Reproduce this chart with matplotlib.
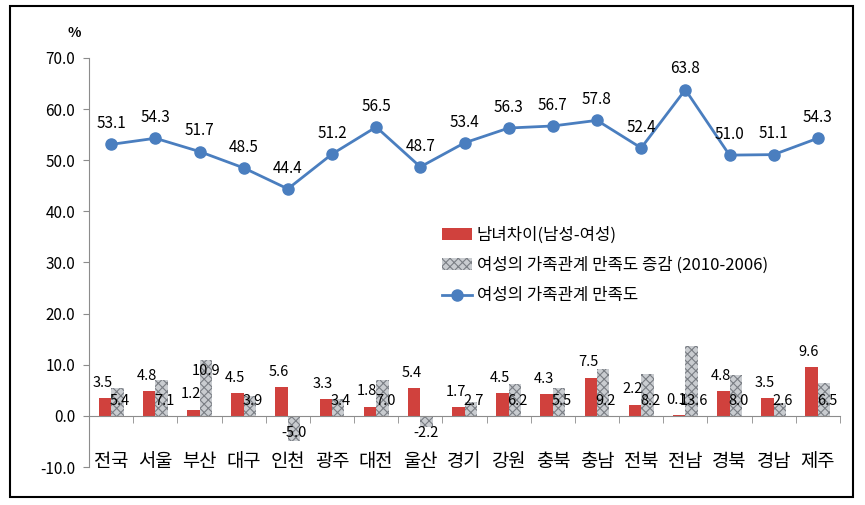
import numpy as np
import matplotlib
matplotlib.use("Agg")
import matplotlib.pyplot as plt
from matplotlib.patches import Rectangle, Patch
from matplotlib.lines import Line2D

plt.rcParams['font.family'] = ['Noto Sans CJK KR', 'DejaVu Sans']
plt.rcParams['hatch.linewidth'] = 0.8

regions = ["전국", "서울", "부산", "대구", "인천", "광주", "대전", "울산", "경기",
           "강원", "충북", "충남", "전북", "전남", "경북", "경남", "제주"]
satisfaction = [53.1, 54.3, 51.7, 48.5, 44.4, 51.2, 56.5, 48.7, 53.4,
                56.3, 56.7, 57.8, 52.4, 63.8, 51.0, 51.1, 54.3]
gender_gap = [3.5, 4.8, 1.2, 4.5, 5.6, 3.3, 1.8, 5.4, 1.7,
              4.5, 4.3, 7.5, 2.2, 0.1, 4.8, 3.5, 9.6]
change = [5.4, 7.1, 10.9, 3.9, -5.0, 3.4, 7.0, -2.2, 2.7,
          6.2, 5.5, 9.2, 8.2, 13.6, 8.0, 2.6, 6.5]
yticks = [-10, 0, 10, 20, 30, 40, 50, 60, 70]

label_gap = "남녀차이(남성-여성)"
label_change = "여성의 가족관계 만족도 증감 (2010-2006)"
label_sat = "여성의 가족관계 만족도"

red = "#d0413d"
blue = "#4a7ebf"
grey_face = "#c9ccd0"
grey_hatch = "#7a7e84"

fig = plt.figure(figsize=(8.65, 5.05), dpi=100)
ax = fig.add_axes([0.103, 0.0752, 0.868, 0.81])

x = np.arange(len(regions))
w = 0.28
ax.bar(x - w / 2, gender_gap, w, color=red, zorder=2)
ax.bar(x + w / 2, change, w, color=grey_face, edgecolor=grey_hatch,
       hatch="xxxx", linewidth=0, zorder=2)
ax.plot(x, satisfaction, color=blue, lw=2, marker="o", ms=8, zorder=3)

# labels
fs = 10.5
for i in range(len(regions)):
    ax.annotate("%.1f" % satisfaction[i], (x[i], satisfaction[i]),
                xytext=(0, 15), textcoords="offset points",
                ha="center", va="center", fontsize=11)
    ax.annotate("%.1f" % gender_gap[i], (x[i] - w / 2, gender_gap[i]),
                xytext=(-2, 11), textcoords="offset points",
                ha="center", va="center", fontsize=fs)
    if change[i] > 10 and i < 5:
        ax.annotate("%.1f" % change[i], (x[i] + w / 2, change[i]),
                    xytext=(0, -8), textcoords="offset points",
                    ha="center", va="center", fontsize=fs)
    elif change[i] >= 0:
        ax.annotate("%.1f" % change[i], (x[i] + w / 2, 0),
                    xytext=(2, 11), textcoords="offset points",
                    ha="center", va="center", fontsize=fs)
    else:
        ax.annotate("%.1f" % change[i], (x[i] + w / 2, 0),
                    xytext=(0, -12), textcoords="offset points",
                    ha="center", va="center", fontsize=fs)

ax.set_xlim(-0.5, len(regions) - 0.5)
ax.set_ylim(-10, 70)
ax.set_yticks(yticks)
ax.set_yticklabels(["%.1f" % v for v in yticks], fontsize=11)

ax.spines["top"].set_visible(False)
ax.spines["right"].set_visible(False)
ax.spines["bottom"].set_position(("data", 0))
ax.spines["left"].set_color("#8c8c8c")
ax.spines["bottom"].set_color("#8c8c8c")
ax.tick_params(axis="y", length=4, color="#8c8c8c", pad=6)

ax.set_xticks(x)
ax.set_xticklabels(regions, fontsize=13.5)
ax.tick_params(axis="x", which="major", length=0, pad=25)
ax.set_xticks(np.arange(-0.5, len(regions)), minor=True)
ax.tick_params(axis="x", which="minor", length=5, color="#8c8c8c")

ax.text(-0.02, 1.06, "%", transform=ax.transAxes, fontsize=10,
        fontweight="bold", ha="center", va="center")

handles = [Patch(facecolor=red, label=label_gap),
           Patch(facecolor=grey_face, edgecolor=grey_hatch, hatch="xxxx",
                 linewidth=0, label=label_change),
           Line2D([], [], color=blue, lw=2, marker="o", ms=8, label=label_sat)]
ax.legend(handles=handles, loc="upper left", bbox_to_anchor=(0.45, 0.625),
          frameon=False, fontsize=12, handlelength=1.8, handletextpad=0.3,
          labelspacing=0.8)

fig.patches.append(Rectangle((0.012, 0.016), 0.974, 0.972, transform=fig.transFigure,
                             fill=False, edgecolor="black", linewidth=1.5))

fig.savefig("out.png", dpi=100)
